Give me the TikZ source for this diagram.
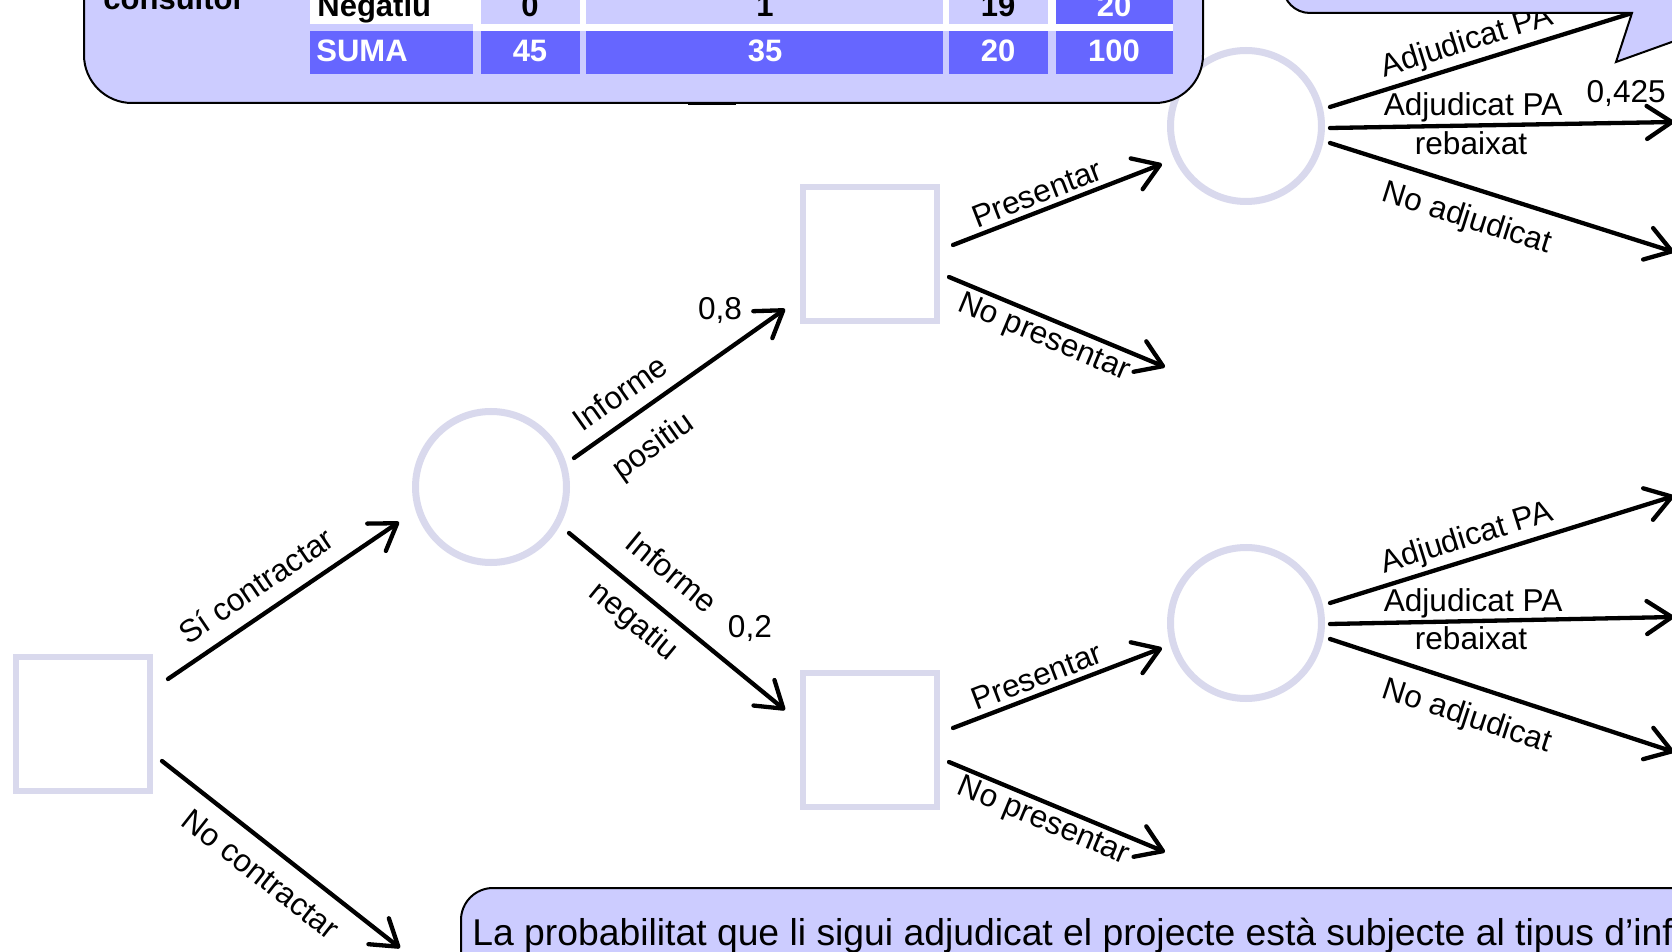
\documentclass[tikz,border=0pt]{standalone}
\usepackage{fontspec}
\setmainfont{Liberation Sans}
\usetikzlibrary{arrows.meta,calc}
\definecolor{lav}{HTML}{CCCCFF}
\definecolor{darklav}{HTML}{6666FF}
\definecolor{nodeline}{HTML}{D9D9ED}
\begin{document}
\begin{tikzpicture}[x=0.5pt,y=-0.5pt,
  decbox/.style={draw=nodeline, line width=3.4pt, rectangle, minimum size=67pt, inner sep=0pt},
  chance/.style={draw=nodeline, line width=3.5pt, circle, minimum size=75.5pt, inner sep=0pt},
  arr/.style={line width=2.15pt, line cap=round, -{Straight Barb[length=12.5pt,width=16.5pt,round]}},
  lbl/.style={font=\fontsize{15.8}{18.9}\selectfont, inner sep=0pt, anchor=base},
  tb/.style={font=\bfseries\fontsize{15.5}{18}\selectfont, inner sep=0pt, anchor=base},
  boxstyle/.style={fill=lav, draw=black, line width=1pt}
]
\useasboundingbox (0,0) rectangle (1672,952);
\clip (0,0) rectangle (1672,952);
\fill[white] (0,0) rectangle (1672,952);

% nodes
\node[decbox] (d1) at (83,724) {};
\node[chance] (c1) at (491,487) {};
\node[decbox] (d2) at (870,254) {};
\node[decbox] (d3) at (870,740) {};
\node[chance] (c2) at (1246,126) {};
\node[chance] (c3) at (1246,623) {};

% free ends
\coordinate (nc) at (400,948);
\coordinate (np1) at (1165,367);
\coordinate (np2) at (1165,852);
\coordinate (u1) at (1674,0);
\coordinate (u2) at (1674,122);
\coordinate (u3) at (1674,252);
\coordinate (l1) at (1674,496);
\coordinate (l2) at (1674,617);
\coordinate (l3) at (1674,752);

% connectors
\draw[arr] ($(d1)+(85,-45)$) -- ($(c1)+(-92,35)$)
  node[lbl, sloped, pos=0.449, yshift=8.25pt] {Sí contractar};
\draw[arr] ($(d1)+(79,37)$) -- (nc)
  node[lbl, sloped, pos=0.488, yshift=-19.35pt] {No contractar};

\draw[arr] ($(c1)+(83,-29)$) -- ($(d2)+(-85,55)$)
  node[lbl, sloped, pos=0.29, yshift=7.8pt] {Informe}
  node[lbl, sloped, pos=0.276, yshift=-22.7pt] {positiu}
  node[lbl, pos=0.8, shift={(-22.8,-19)}] {0,8};
\draw[arr] ($(c1)+(78,46)$) -- ($(d3)+(-85,-30)$)
  node[lbl, sloped, pos=0.374, yshift=12.05pt] {Informe}
  node[lbl, sloped, pos=0.38, yshift=-18.25pt] {negatiu}
  node[lbl, pos=0.714, shift={(26.7,-21.5)}] {0,2};

\draw[arr] ($(d2)+(83,-9)$) -- ($(c2)+(-84,38)$)
  node[lbl, sloped, pos=0.433, yshift=3.55pt] {Presentar};
\draw[arr] ($(d2)+(79,23)$) -- (np1)
  node[lbl, sloped, pos=0.474, yshift=-13.8pt] {No presentar};
\draw[arr] ($(d3)+(83,-12)$) -- ($(c3)+(-84,25)$)
  node[lbl, sloped, pos=0.433, yshift=3.75pt] {Presentar};
\draw[arr] ($(d3)+(79,22)$) -- (np2)
  node[lbl, sloped, pos=0.47, yshift=-13.35pt] {No presentar};

\draw[arr] ($(c2)+(84,-19)$) -- (u1)
  node[lbl, sloped, pos=0.417, yshift=6.2pt] {Adjudicat PA};
\draw[arr] ($(c2)+(84,2)$) -- (u2)
  node[lbl, pos=0.416, shift={(0,-10.5)}] {Adjudicat PA}
  node[lbl, pos=0.41, shift={(0,28.5)}] {rebaixat}
  node[lbl, pos=0.861, shift={(0,-20.8)}] {0,425};
\draw[arr] ($(c2)+(84,17)$) -- (u3)
  node[lbl, sloped, pos=0.425, yshift=-19.8pt] {No adjudicat};

\draw[arr] ($(c3)+(84,-20)$) -- (l1)
  node[lbl, sloped, pos=0.417, yshift=6.2pt] {Adjudicat PA};
\draw[arr] ($(c3)+(84,1)$) -- (l2)
  node[lbl, pos=0.416, shift={(0,-9.5)}] {Adjudicat PA}
  node[lbl, pos=0.41, shift={(0,28)}] {rebaixat};
\draw[arr] ($(c3)+(84,16)$) -- (l3)
  node[lbl, sloped, pos=0.426, yshift=-19.95pt] {No adjudicat};

% table box (top left)
\draw[boxstyle, rounded corners=24pt] (84,-150) rectangle (1203,103);
\draw[line width=1.6pt] (688,103.5) -- (736,103.5);
\fill[white] (473,-20) rectangle (1173,31);
\fill[white] (310,-20) rectangle (473,24.5);
\fill[lav] (481,-20) rectangle (580,24.5);
\fill[lav] (586,-20) rectangle (943,24.5);
\fill[lav] (949,-20) rectangle (1048,24.5);
\fill[darklav] (1056,-20) rectangle (1173,24.5);
\fill[darklav] (310,31) rectangle (473,74);
\fill[darklav] (481,31) rectangle (580,74);
\fill[darklav] (586,31) rectangle (943,74);
\fill[darklav] (949,31) rectangle (1048,74);
\fill[darklav] (1056,31) rectangle (1173,74);
\node[tb, anchor=base west] (tconsultor) at (103,10) {consultor};
\node[tb, anchor=base west] (tneg) at (317,17) {Negatiu};
\node[tb] (t01) at (530,17) {0};
\node[tb] (t02) at (765,17) {1};
\node[tb] (t03) at (998,17) {19};
\node[tb, text=white] (t04) at (1114,17) {20};
\node[tb, anchor=base west, text=white] (tsuma) at (316,62) {SUMA};
\node[tb, text=white] (t11) at (530,62) {45};
\node[tb, text=white] (t12) at (765,62) {35};
\node[tb, text=white] (t13) at (998,62) {20};
\node[tb, text=white] (t14) at (1114,62) {100};

% callout top right
\draw[boxstyle] (1283,-100) -- (1283,-14) .. controls (1283,1) and (1295,13) .. (1310,13)
  -- (1632,13) -- (1616,62) -- (1800,-4) -- (1800,-100) -- cycle;

% bottom note
\draw[boxstyle, rounded corners=16pt] (461,888) rectangle (1900,1100);
\node[anchor=base west, inner sep=0pt, font=\fontsize{18.65}{22}\selectfont] (note) at (472,945)
  {La probabilitat que li sigui adjudicat el projecte està subjecte al tipus d’inf};
\end{tikzpicture}
\end{document}
